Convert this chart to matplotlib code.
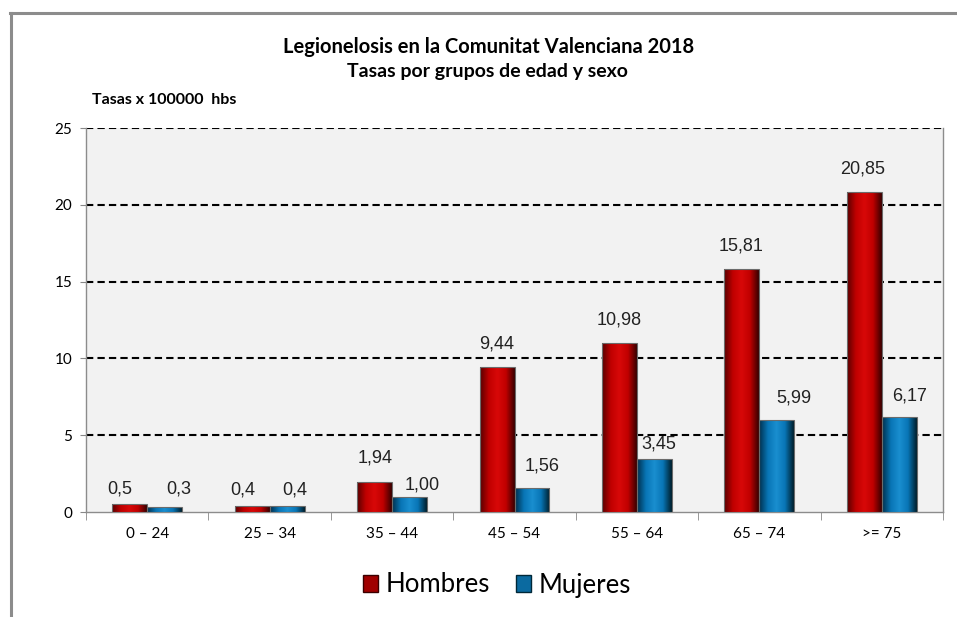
import numpy as np
import matplotlib
matplotlib.use("Agg")
import matplotlib.pyplot as plt
from matplotlib.patches import Patch
from matplotlib.lines import Line2D
from matplotlib.colors import LinearSegmentedColormap

# datos: tasas por 100000 habitantes
grupos = ["0 \u2013 24", "25 \u2013 34", "35 \u2013 44", "45 \u2013 54", "55 \u2013 64", "65 \u2013 74", ">= 75"]
hombres = [0.5, 0.4, 1.94, 9.44, 10.98, 15.81, 20.85]
mujeres = [0.3, 0.4, 1.00, 1.56, 3.45, 5.99, 6.17]
etiq_hombres = ["0,5", "0,4", "1,94", "9,44", "10,98", "15,81", "20,85"]
etiq_mujeres = ["0,3", "0,4", "1,00", "1,56", "3,45", "5,99", "6,17"]
yticks = [0, 5, 10, 15, 20, 25]

# desplazamiento de cada etiqueta respecto a la barra (px)
dx_h = [-10, -9, 0, 0, 0, -1, -2]
dy_h = [15, 16, 24, 22.7, 23, 22.7, 22.7]
dx_m = [14, 8, 13, 10, 4, 17, 10]
dy_m = [18, 16, 12, 22, 15, 22, 21.7]

fig = plt.figure(figsize=(9.57, 6.17), dpi=100)
ax = fig.add_axes([86 / 957, 1 - 512 / 617, 857 / 957, 384 / 617])
ax.set_facecolor("#f2f2f2")

x = np.arange(len(grupos))
w = 0.285

# degradados para imitar el relieve de las barras
cm_rojo = LinearSegmentedColormap.from_list("r", ["#5a0000", "#c00000", "#d80808", "#c00000", "#3a0000"])
cm_azul = LinearSegmentedColormap.from_list("b", ["#00304e", "#0875b5", "#1a8fd0", "#0875b5", "#00202e"])
grad = np.linspace(0, 1, 64).reshape(1, -1)


def barras(pos, vals, cmap, borde):
    bs = ax.bar(pos, vals, w, color="none", edgecolor=borde, linewidth=0.8, zorder=3)
    for b in bs:
        x0, y0 = b.get_x(), b.get_y()
        im = ax.imshow(grad, cmap=cmap, aspect="auto", zorder=2.9,
                       extent=[x0, x0 + b.get_width(), y0, y0 + b.get_height()])
        im.set_clip_path(b)
    return bs


b1 = barras(x - w / 2, hombres, cm_rojo, "#6b6b6b")
b2 = barras(x + w / 2, mujeres, cm_azul, "#6b6b6b")

for bs, etiqs, dxs, dys in [(b1, etiq_hombres, dx_h, dy_h), (b2, etiq_mujeres, dx_m, dy_m)]:
    for b, t, dx, dy in zip(bs, etiqs, dxs, dys):
        ax.annotate(t, (b.get_x() + b.get_width() / 2, b.get_height()),
                    xytext=(dx * 0.72, dy * 0.72), textcoords="offset points",
                    ha="center", va="center",
                    fontsize=13, family="Liberation Sans", color="#222222")

ax.set_xlim(-0.5, len(grupos) - 0.5)
ax.set_ylim(0, 25)
ax.set_yticks(yticks)
ax.set_yticklabels([str(v) for v in yticks], fontsize=11, family="Lato")
for v in yticks[1:]:
    ax.axhline(v, color="black", linewidth=1.5, linestyle=(0, (3.5, 2)), zorder=1)

ax.set_xticks(x)
ax.set_xticklabels(grupos, fontsize=11, family="Lato")
ax.set_xticks(np.arange(len(grupos) + 1) - 0.5, minor=True)
ax.tick_params(axis="x", which="major", length=0, pad=11)
ax.tick_params(axis="x", which="minor", length=6, color="#888888")
ax.tick_params(axis="y", length=4, color="#888888", pad=6)

ax.spines["top"].set_visible(False)
for s in ["left", "bottom", "right"]:
    ax.spines[s].set_color("#8c8c8c")
    ax.spines[s].set_linewidth(1)

# marco exterior
fig.add_artist(Line2D([10 / 957, 955 / 957], [1 - 13 / 617, 1 - 13 / 617],
                      color="#8c8c8c", linewidth=2.2))
fig.add_artist(Line2D([11 / 957, 11 / 957], [1 - 13 / 617, 0],
                      color="#8c8c8c", linewidth=2.2))

fig.text(489 / 957, 1 - 47 / 617, "Legionelosis en la Comunitat Valenciana 2018",
         ha="center", va="center", fontsize=14.5, fontweight="bold", family="Lato")
fig.text(487 / 957, 1 - 72 / 617, "Tasas por grupos de edad y sexo",
         ha="center", va="center", fontsize=14, fontweight="bold", family="Lato")
fig.text(92 / 957, 1 - 100 / 617, "Tasas x 100000  hbs",
         ha="left", va="center", fontsize=11.5, fontweight="bold", family="Lato")

handles = [Patch(facecolor="#a00000", edgecolor="#3a0000", label="Hombres"),
           Patch(facecolor="#0b6aa0", edgecolor="#002838", label="Mujeres")]
fig.legend(handles=handles, loc="center", bbox_to_anchor=(497 / 957, 1 - 585 / 617),
           ncol=2, frameon=False, prop={"family": "Lato", "size": 18.5},
           handlelength=0.6, handleheight=0.6, handletextpad=0.3, columnspacing=1.0)

fig.savefig("out.png", dpi=100)
